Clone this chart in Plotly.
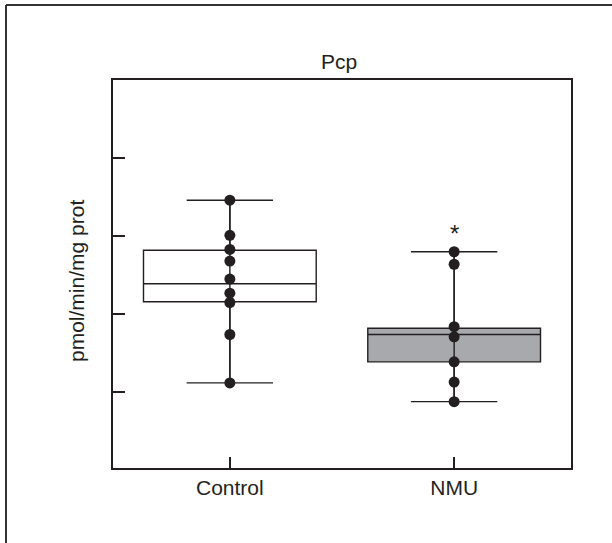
import plotly.graph_objects as go

categories = ["Control", "NMU"]
control_vals = [3.46, 3.01, 2.83, 2.68, 2.45, 2.27, 2.15, 1.74, 1.12]
nmu_vals = [2.80, 2.64, 1.84, 1.71, 1.39, 1.13, 0.88]
# box statistics: q1, median, q3, lower fence, upper fence
control_box = dict(q1=2.16, median=2.39, q3=2.82, lower=1.12, upper=3.46)
nmu_box = dict(q1=1.39, median=1.74, q3=1.82, lower=0.88, upper=2.80)
ytick_vals = [1, 2, 3, 4]

INK = "#231f20"
FONT = "Liberation Sans, Arial, Helvetica, sans-serif"
W, H = 612, 543
ML, MR, MT, MB = 113, 41, 80, 75

fig = go.Figure()
fills = ["#ffffff", "#a7a9ac"]
for cat, st, fill in zip(categories, [control_box, nmu_box], fills):
    fig.add_trace(go.Box(
        x=[cat], q1=[st["q1"]], median=[st["median"]], q3=[st["q3"]],
        lowerfence=[st["lower"]], upperfence=[st["upper"]],
        fillcolor=fill, line=dict(color=INK, width=1.4),
        whiskerwidth=0.5, width=0.77, boxpoints=False, showlegend=False,
        hoverinfo="skip"))

for cat, vals in zip(categories, [control_vals, nmu_vals]):
    fig.add_trace(go.Scatter(
        x=[cat, cat], y=[min(vals), max(vals)], mode="lines",
        line=dict(color=INK, width=1.4), showlegend=False, hoverinfo="skip"))
    fig.add_trace(go.Scatter(
        x=[cat] * len(vals), y=vals, mode="markers",
        marker=dict(color=INK, size=11), showlegend=False))

fig.add_annotation(x="NMU", y=max(nmu_vals), text="*", showarrow=False,
                   yanchor="bottom", yshift=3, font=dict(size=24, color=INK, family=FONT))

pw = W - ML - MR
ph = H - MT - MB
fig.add_annotation(xref="paper", yref="paper", x=(76 - ML) / pw, y=1 - (281 - MT) / ph,
                   xanchor="center", yanchor="middle",
                   text="pmol/min/mg prot", textangle=-90, showarrow=False,
                   font=dict(size=21, color=INK, family=FONT))

# outer frame (left and top edges)
fig.add_shape(type="line", xref="paper", yref="paper",
              x0=(6 - ML) / pw, x1=(6 - ML) / pw,
              y0=1 - (H + 5 - MT) / ph, y1=1 + (MT - 5) / ph,
              line=dict(color="#333333", width=2))
fig.add_shape(type="line", xref="paper", yref="paper",
              x0=(6 - ML) / pw, x1=(W + 5 - ML) / pw,
              y0=1 + (MT - 5) / ph, y1=1 + (MT - 5) / ph,
              line=dict(color="#333333", width=2))

fig.update_layout(
    width=W, height=H, margin=dict(l=ML, r=MR, t=MT, b=MB),
    paper_bgcolor="white", plot_bgcolor="white",
    font=dict(family=FONT, size=21, color=INK),
    title=dict(text="Pcp", x=(339 - ML) / pw, xref="paper", xanchor="center",
               y=1 - 62 / H, yanchor="middle", font=dict(size=21, color=INK)),
    showlegend=False,
)
fig.update_xaxes(type="category", range=[-0.521, 1.521], showgrid=False, zeroline=False,
                 showline=True, mirror=True, linecolor=INK, linewidth=1.5,
                 ticks="inside", ticklen=11, tickcolor=INK, tickwidth=1.5,
                 tickfont=dict(size=21, color=INK))
fig.update_yaxes(range=[0.03, 5.0], tickvals=ytick_vals, showticklabels=False,
                 showgrid=False, zeroline=False,
                 showline=True, mirror=True, linecolor=INK, linewidth=1.5,
                 ticks="inside", ticklen=12, tickcolor=INK, tickwidth=1.5)

fig.write_html("out.html")
